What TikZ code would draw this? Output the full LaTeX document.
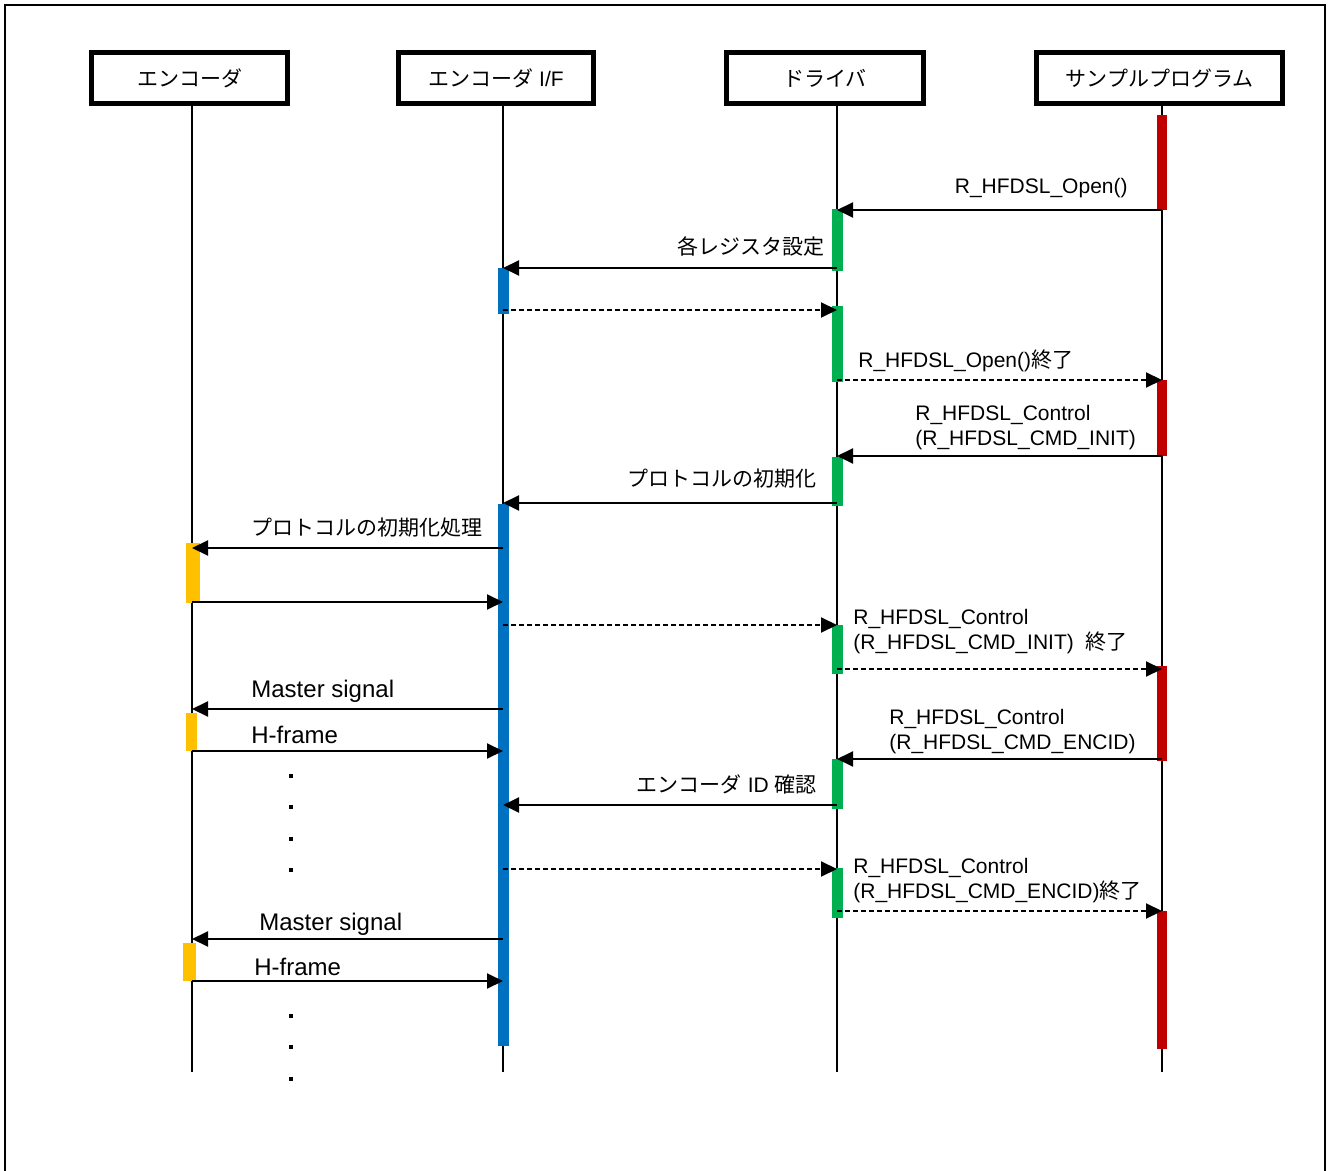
\documentclass[tikz,border=0pt]{standalone}
\usepackage{fontspec}
\setmainfont{Liberation Sans}
\newfontfamily\jp{Noto Sans CJK JP}
\usetikzlibrary{arrows.meta}

\definecolor{barred}{HTML}{C00000}
\definecolor{bargreen}{HTML}{00B050}
\definecolor{barblue}{HTML}{0070C0}
\definecolor{baryellow}{HTML}{FFC000}

\begin{document}
\begin{tikzpicture}[
    x=0.5pt, y=-0.5pt,
    head/.style={
        draw,
        line width=2.5pt,
        minimum width=98pt,
        minimum height=25.5pt,
        inner sep=0pt,
        font=\fontsize{10.5}{12}\selectfont
    },
    life/.style={line width=1pt},
    msg/.style={-{Triangle[length=8pt,width=7.5pt]}, line width=1pt},
    ret/.style={msg, dash pattern=on 2.5pt off 1.5pt},
    lbl/.style={inner sep=0pt, align=left, font=\fontsize{10.5}{12.5}\selectfont},
    biglbl/.style={inner sep=0pt, font=\fontsize{12}{14}\selectfont}
]
\useasboundingbox (0,0) rectangle (1328,1171);
\draw[line width=1pt] (5,1171) -- (5,5) -- (1325,5) -- (1325,1171);

% lifelines
\node[head] (enc) at (189.5,78) {\jp エンコーダ};
\node[head, minimum width=97.5pt] (encif) at (496,78) {{\jp エンコーダ} I/F};
\node[head, minimum width=98.5pt] (drv) at (825,78) {\jp ドライバ};
\node[head, minimum width=123pt] (app) at (1159.5,78) {\jp サンプルプログラム};

\coordinate (lEnc) at (192,0);
\coordinate (lIf) at (503,0);
\coordinate (lDrv) at (837,0);
\coordinate (lApp) at (1162,0);

\draw[life] (enc.south -| lEnc) -- (lEnc |- 0,1072);
\draw[life] (encif.south -| lIf) -- (lIf |- 0,1072);
\draw[life] (drv.south -| lDrv) -- (lDrv |- 0,1072);
\draw[life] (app.south -| lApp) -- (lApp |- 0,1072);

% activation bars
\foreach \a/\b in {115/210, 380/456, 666/761, 911/1049}
    \fill[barred] (1157,\a) rectangle (1167,\b);
\foreach \a/\b in {209/271, 306/382, 457/506, 625/674, 759/809, 868/918}
    \fill[bargreen] (832,\a) rectangle (843,\b);
\foreach \a/\b in {268/314, 504/1046}
    \fill[barblue] (498,\a) rectangle (509,\b);
\fill[baryellow] (186,543) rectangle (200,603);
\fill[baryellow] (186,713) rectangle (197,751);
\fill[baryellow] (183,943) rectangle (196,981);

% messages
\draw[msg] (lApp |- 0,210) -- (lDrv |- 0,210);
\node[lbl, anchor=base east] (tOpen) at (1128,194) {R\_HFDSL\_Open()};

\draw[msg] (lDrv |- 0,268) -- (lIf |- 0,268);
\node[lbl, anchor=base east] (tReg) at (825,255) {\jp 各レジスタ設定};

\draw[ret] (lIf |- 0,310) -- (lDrv |- 0,310);

\draw[ret] (lDrv |- 0,380) -- (lApp |- 0,380);
\node[lbl, anchor=base west] (tOpenEnd) at (858,368) {R\_HFDSL\_Open(){\jp 終了}};

\draw[msg] (lApp |- 0,456) -- (lDrv |- 0,456);
\node[lbl, anchor=north west] (tInit) at (915,405) {R\_HFDSL\_Control\\(R\_HFDSL\_CMD\_INIT)};

\draw[msg] (lDrv |- 0,503) -- (lIf |- 0,503);
\node[lbl, anchor=base east] (tProto) at (817,487) {\jp プロトコルの初期化};

\draw[msg] (lIf |- 0,548) -- (lEnc |- 0,548);
\node[lbl, anchor=base west] (tProtoRun) at (251,535) {\jp プロトコルの初期化処理};

\draw[msg] (lEnc |- 0,602) -- (lIf |- 0,602);

\draw[ret] (lIf |- 0,625) -- (lDrv |- 0,625);

\draw[ret] (lDrv |- 0,669) -- (lApp |- 0,669);
\node[lbl, anchor=north west] (tInitEnd) at (853,609) {R\_HFDSL\_Control\\(R\_HFDSL\_CMD\_INIT) \ {\jp 終了}};

\draw[msg] (lIf |- 0,709) -- (lEnc |- 0,709);
\node[biglbl, anchor=base west] (tMaster) at (251,697) {Master signal};

\draw[msg] (lEnc |- 0,751) -- (lIf |- 0,751);
\node[biglbl, anchor=base west] (tFrame) at (251,743) {H-frame};

\draw[msg] (lApp |- 0,759) -- (lDrv |- 0,759);
\node[lbl, anchor=north west] (tEncid) at (889,709) {R\_HFDSL\_Control\\(R\_HFDSL\_CMD\_ENCID)};

\draw[msg] (lDrv |- 0,805) -- (lIf |- 0,805);
\node[lbl, anchor=base east] (tId) at (817,792) {{\jp エンコーダ} ID {\jp 確認}};

\draw[ret] (lIf |- 0,869) -- (lDrv |- 0,869);

\draw[ret] (lDrv |- 0,911) -- (lApp |- 0,911);
\node[lbl, anchor=north west] (tEncidEnd) at (853,858) {R\_HFDSL\_Control\\(R\_HFDSL\_CMD\_ENCID){\jp 終了}};

\draw[msg] (lIf |- 0,939) -- (lEnc |- 0,939);
\node[biglbl, anchor=base west] (tMaster2) at (259,930) {Master signal};

\draw[msg] (lEnc |- 0,981) -- (lIf |- 0,981);
\node[biglbl, anchor=base west] (tFrame2) at (254,975) {H-frame};

% dots
\foreach \y in {776,807,839,870,1016,1047,1079}
    \fill (289,\y-2) rectangle (293,\y+2);
\end{tikzpicture}
\end{document}
